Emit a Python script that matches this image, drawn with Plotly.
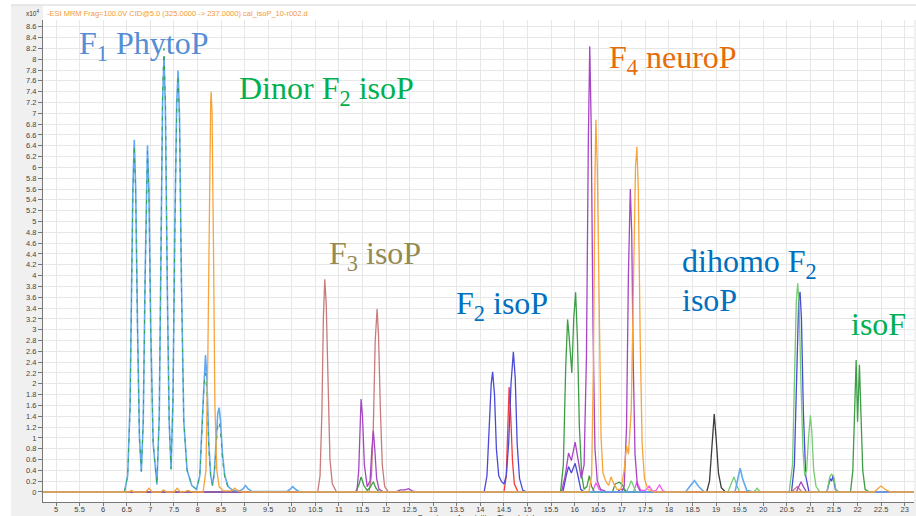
import plotly.graph_objects as go

# ---- data: retention time (min) and counts (x10^4) ----
LIGHTBLUE_T = [4.72, 6.45, 6.52, 6.57, 6.60, 6.63, 6.66, 6.69, 6.73, 6.77, 6.81, 6.85, 6.89, 6.92, 6.94, 6.97,
               7.01, 7.06, 7.14, 7.19, 7.23, 7.26, 7.29, 7.32, 7.36, 7.40, 7.44, 7.48, 7.52, 7.56, 7.59, 7.62,
               7.66, 7.71, 7.78, 7.88, 7.98, 8.05, 8.10, 8.14, 8.17, 8.20, 8.24, 8.28, 8.32, 8.36, 8.40, 8.43,
               8.46, 8.49, 8.53, 8.58, 8.65, 8.75, 8.90, 8.97, 9.02, 9.07, 9.15, 9.90, 9.96, 10.02, 10.08, 10.15,
               18.35, 18.45, 18.54, 18.63, 18.75, 19.40, 19.46, 19.51, 19.56, 19.65, 19.80, 23.20]
LIGHTBLUE_V = [0, 0, 0.3, 1.6, 3.6, 5.6, 6.51, 5.6, 3.0, 1.0, 0.38, 1.3, 4.0, 5.9, 6.41, 5.6,
               3.0, 0.9, 0.14, 1.4, 4.6, 7.2, 8.05, 7.1, 3.8, 1.3, 0.42, 1.7, 4.9, 7.2, 7.79, 6.9,
               3.9, 1.3, 0.4, 0.12, 0.05, 0.3, 1.3, 2.2, 2.53, 2.1, 0.9, 0.3, 0.12, 0.4, 1.1, 1.45,
               1.56, 1.3, 0.7, 0.3, 0.1, 0.03, 0.02, 0.06, 0.12, 0.06, 0.01, 0.01, 0.05, 0.1, 0.05, 0.01,
               0, 0.1, 0.21, 0.1, 0, 0, 0.25, 0.44, 0.25, 0.03, 0, 0]

GREENDASH_T = [6.45, 6.52, 6.57, 6.60, 6.63, 6.66, 6.69, 6.73, 6.77, 6.81, 6.85, 6.89, 6.92, 6.94, 6.97,
               7.01, 7.06, 7.14, 7.19, 7.23, 7.26, 7.29, 7.32, 7.36, 7.40, 7.44, 7.48, 7.52, 7.56, 7.59, 7.62,
               7.66, 7.71, 7.78, 7.88, 7.98, 8.05, 8.10, 8.14, 8.17, 8.20, 8.24, 8.28, 8.32, 8.36, 8.40, 8.43,
               8.46, 8.49, 8.53, 8.58, 8.65, 8.75]
GREENDASH_V = [0, 0.3, 1.5, 3.5, 5.5, 6.4, 5.5, 2.9, 1.0, 0.38, 1.3, 3.9, 5.8, 6.3, 5.5,
               2.9, 0.9, 0.14, 1.4, 4.7, 7.4, 8.2, 7.2, 3.8, 1.3, 0.42, 1.7, 4.8, 7.1, 7.7, 6.8,
               3.8, 1.3, 0.4, 0.12, 0.05, 0.3, 1.2, 2.0, 2.2, 1.8, 0.8, 0.3, 0.12, 0.35, 0.9, 1.2,
               1.3, 1.1, 0.6, 0.25, 0.08, 0.02]

ORANGE_T = [4.72, 6.55, 6.60, 6.65, 6.90, 6.97, 7.04, 7.22, 7.28, 7.34, 7.50, 7.57, 7.64, 7.75, 7.80, 7.90,
            8.12, 8.18, 8.22, 8.25, 8.28, 8.29, 8.31, 8.34, 8.37, 8.41, 8.46, 8.55, 8.72, 8.79, 8.86, 8.95,
            16.30, 16.36, 16.40, 16.43, 16.45, 16.48, 16.52, 16.56, 16.60, 16.66, 16.72, 16.77, 16.83, 16.90,
            16.98, 17.05, 17.10, 17.14, 17.20, 17.25, 17.29, 17.32, 17.35, 17.39, 17.43, 17.48, 17.55, 17.70,
            22.35, 22.45, 22.50, 22.58, 22.70, 23.20]
ORANGE_V = [0, 0, 0.03, 0, 0, 0.07, 0, 0, 0.04, 0, 0, 0.07, 0, 0.01, 0.03, 0,
            0, 0.4, 2.5, 5.5, 7.2, 7.4, 7.0, 4.5, 1.6, 0.4, 0.1, 0.02, 0.02, 0.07, 0.02, 0,
            0, 0.3, 2.5, 5.8, 6.88, 6.0, 3.0, 1.0, 0.35, 0.2, 0.12, 0.28, 0.15, 0.05,
            0.05, 0.4, 0.85, 0.7, 1.5, 4.0, 6.0, 6.38, 5.6, 2.8, 0.9, 0.25, 0.05, 0,
            0, 0.08, 0.11, 0.05, 0, 0]

ROSY_T = [4.72, 10.55, 10.60, 10.64, 10.67, 10.70, 10.73, 10.77, 10.81, 10.86, 10.95,
          11.64, 11.69, 11.73, 11.77, 11.81, 11.84, 11.88, 11.92, 11.97, 12.05, 20.60, 20.72, 20.82, 23.20]
ROSY_V = [0, 0, 0.3, 1.5, 3.2, 3.93, 3.5, 1.8, 0.6, 0.15, 0,
          0, 0.3, 1.2, 2.8, 3.38, 2.9, 1.5, 0.5, 0.1, 0, 0, 0.1, 0, 0]

PURPLE_T = [4.72, 11.38, 11.42, 11.45, 11.47, 11.50, 11.54, 11.60, 11.66, 11.70, 11.73, 11.76, 11.80, 11.85,
            11.95, 12.20, 12.30, 12.40, 12.48, 12.55, 12.65, 15.72, 15.80, 15.87, 15.93, 16.01, 16.07, 16.14,
            16.20, 16.25, 16.29, 16.32, 16.35, 16.39, 16.43, 16.48, 16.55, 16.70, 17.00, 17.05, 17.10, 17.14,
            17.18, 17.21, 17.24, 17.28, 17.33, 17.40, 20.70, 20.76, 20.80, 20.85, 20.92, 23.20]
PURPLE_V = [0, 0, 0.4, 1.3, 1.72, 1.4, 0.5, 0.1, 0.2, 0.8, 1.13, 0.8, 0.25, 0.05,
            0, 0, 0.04, 0.04, 0.06, 0.02, 0, 0, 0.3, 0.72, 0.58, 0.92, 0.6, 0.25,
            0.5, 2.5, 6.5, 8.24, 6.8, 3.0, 0.8, 0.2, 0.05, 0, 0, 0.1, 1.2, 4.0,
            5.6, 4.8, 2.5, 0.7, 0.12, 0, 0, 0.12, 0.19, 0.1, 0, 0]

VIOLET_T = [4.72, 14.08, 14.14, 14.19, 14.23, 14.26, 14.30, 14.34, 14.39, 14.45, 14.50, 14.55, 14.60, 14.65,
            14.70, 14.74, 14.78, 14.83, 14.90, 15.00, 15.75, 15.82, 15.87, 15.93, 16.01, 16.07, 16.13, 16.20,
            16.90, 16.97, 17.05, 17.12, 20.60, 20.66, 20.71, 20.75, 20.78, 20.81, 20.85, 20.90, 20.97,
            21.35, 21.42, 21.45, 21.48, 21.53, 21.60, 23.20]
VIOLET_V = [0, 0, 0.3, 1.3, 2.0, 2.22, 1.8, 0.8, 0.3, 0.19, 0.15, 0.3, 0.9, 2.0,
            2.59, 2.1, 0.9, 0.25, 0.03, 0, 0, 0.3, 0.47, 0.35, 0.53, 0.3, 0.05, 0,
            0, 0.05, 0.05, 0, 0, 0.5, 2.5, 3.5, 3.7, 3.2, 1.5, 0.3, 0,
            0, 0.25, 0.2, 0.3, 0.05, 0, 0]

RED_T = [4.72, 14.50, 14.55, 14.58, 14.61, 14.64, 14.68, 14.72, 14.80, 23.20]
RED_V = [0, 0, 0.3, 1.2, 1.94, 1.5, 0.6, 0.15, 0, 0]

GREEN_T = [4.72, 11.35, 11.42, 11.47, 11.53, 11.60, 11.67, 11.73, 11.78, 11.85, 15.70, 15.76, 15.81, 15.85,
           15.88, 15.94, 15.98, 16.02, 16.06, 16.10, 16.15, 16.20, 16.26, 16.31, 16.36, 16.42, 16.80, 16.86,
           16.95, 17.02, 17.08, 21.85, 21.90, 21.94, 21.97, 22.00, 22.02, 22.04, 22.07, 22.11, 22.16, 22.25, 23.20]
GREEN_V = [0, 0, 0.12, 0.28, 0.12, 0.03, 0.1, 0.19, 0.08, 0, 0, 0.5, 2.3, 3.19,
           2.9, 2.2, 3.2, 3.69, 2.8, 1.2, 0.3, 0.05, 0.1, 0.3, 0.1, 0, 0, 0.15,
           0.18, 0.12, 0, 0, 0.4, 1.8, 2.44, 1.3, 1.8, 2.35, 1.5, 0.4, 0.05, 0, 0]

LIGHTGREEN_T = [4.72, 17.10, 17.16, 17.20, 17.25, 17.30, 19.25, 19.32, 19.38, 19.44, 19.50, 19.80, 19.87, 19.94,
                20.55, 20.62, 20.67, 20.70, 20.73, 20.76, 20.80, 20.84, 20.88, 20.92, 20.96, 21.00, 21.03, 21.07,
                21.12, 21.20, 21.35, 21.41, 21.45, 21.49, 21.54, 21.60, 23.20]
LIGHTGREEN_V = [0, 0, 0.12, 0.21, 0.1, 0, 0, 0.15, 0.28, 0.12, 0, 0, 0.07, 0,
                0, 0.5, 2.2, 3.5, 3.86, 3.5, 2.0, 0.8, 0.3, 0.4, 1.0, 1.42, 1.1, 0.4,
                0.1, 0, 0, 0.28, 0.33, 0.3, 0.05, 0, 0]

BLACK_T = [4.72, 18.80, 18.86, 18.91, 18.96, 19.00, 19.05, 19.11, 19.20, 23.20]
BLACK_V = [0, 0, 0.2, 0.9, 1.44, 1.0, 0.35, 0.08, 0, 0]

PINK_T = [4.72, 16.38, 16.45, 16.52, 16.60, 17.25, 17.32, 17.40, 17.50, 17.58, 17.65, 17.72, 17.80, 17.87, 17.95, 23.20]
PINK_V = [0, 0, 0.17, 0.05, 0, 0, 0.19, 0.03, 0.03, 0.11, 0.02, 0.02, 0.13, 0.02, 0, 0]

X_TICKS = [5, 5.5, 6, 6.5, 7, 7.5, 8, 8.5, 9, 9.5, 10, 10.5, 11, 11.5, 12, 12.5, 13, 13.5, 14, 14.5,
           15, 15.5, 16, 16.5, 17, 17.5, 18, 18.5, 19, 19.5, 20, 20.5, 21, 21.5, 22, 22.5, 23]
X_TICK_TEXT = [str(v) for v in X_TICKS]
Y_TICKS = [0, 0.2, 0.4, 0.6, 0.8, 1, 1.2, 1.4, 1.6, 1.8, 2, 2.2, 2.4, 2.6, 2.8, 3, 3.2, 3.4, 3.6, 3.8,
           4, 4.2, 4.4, 4.6, 4.8, 5, 5.2, 5.4, 5.6, 5.8, 6, 6.2, 6.4, 6.6, 6.8, 7, 7.2, 7.4, 7.6, 7.8,
           8, 8.2, 8.4, 8.6]
Y_TICK_TEXT = [str(v) for v in Y_TICKS]

LABELS = ["F<sub>1</sub> PhytoP", "Dinor F<sub>2</sub> isoP", "F<sub>3</sub> isoP", "F<sub>2</sub> isoP",
          "F<sub>4</sub> neuroP", "dihomo F<sub>2</sub>", "isoP", "isoF"]
LABEL_T = [5.45, 8.84, 10.75, 13.44, 16.69, 18.24, 18.24, 21.82]
LABEL_V = [8.26, 7.43, 4.38, 3.44, 7.99, 4.23, 3.55, 3.11]
LABEL_COLORS = ["#558ed5", "#00b050", "#948a54", "#0070c0", "#e46c0a", "#0070c0", "#0070c0", "#00b050"]

# ---- figure ----
traces = [
    (ROSY_T, ROSY_V, "#c97b7b", None, 1.3),
    (PINK_T, PINK_V, "#f25cf2", None, 1.3),
    (BLACK_T, BLACK_V, "#3c3c3c", None, 1.3),
    (RED_T, RED_V, "#f23c3c", None, 1.3),
    (VIOLET_T, VIOLET_V, "#4a4ad8", None, 1.3),
    (LIGHTGREEN_T, LIGHTGREEN_V, "#74cc74", None, 1.3),
    (GREEN_T, GREEN_V, "#3d9e45", None, 1.3),
    (PURPLE_T, PURPLE_V, "#a646c4", None, 1.3),
    (LIGHTBLUE_T, LIGHTBLUE_V, "#62aaf0", None, 1.6),
    (GREENDASH_T, GREENDASH_V, "#2da55a", "4px,6px", 1.0),
    (ORANGE_T, ORANGE_V, "#f7a43b", None, 1.3),
]

fig = go.Figure()
for t, v, c, d, w in traces:
    fig.add_trace(go.Scatter(
        x=t, y=v, mode="lines",
        line=dict(color=c, width=w, shape="linear", dash=d if d else "solid"),
        hoverinfo="skip", showlegend=False))

W_PLOT = 871.0
H_PLOT = 482.0

annotations = []
for txt, t, v, c in zip(LABELS, LABEL_T, LABEL_V, LABEL_COLORS):
    annotations.append(dict(
        x=t, y=v, xref="x", yref="y", text=txt, showarrow=False,
        xanchor="left", yanchor="middle",
        font=dict(family="Liberation Serif, Times New Roman, serif", size=32, color=c)))

annotations.append(dict(
    x=(45 - 43) / W_PLOT, y=(502 - 13) / H_PLOT, xref="paper", yref="paper",
    text="-ESI MRM Frag=100.0V CID@5.0 (325.0000 -> 237.0000) cal_isoP_10-r002.d",
    showarrow=False, xanchor="left", yanchor="middle",
    font=dict(family="Liberation Sans, Arial, sans-serif", size=7.5, color="#f39a36")))
annotations.append(dict(
    x=(24 - 43) / W_PLOT, y=(502 - 13) / H_PLOT, xref="paper", yref="paper",
    text="x10<sup>4</sup>", showarrow=False, xanchor="left", yanchor="middle",
    font=dict(family="Liberation Sans, Arial, sans-serif", size=6.5, color="#333333")))
annotations.append(dict(
    x=0.498, y=(502 - 510.5) / H_PLOT, xref="paper", yref="paper",
    text="Counts vs. Acquisition Time (min)", showarrow=False, xanchor="center", yanchor="top",
    font=dict(family="Liberation Sans, Arial, sans-serif", size=8, color="#333333")))

shapes = [
    dict(type="rect", xref="paper", yref="paper", x0=0, x1=(916 - 43) / W_PLOT,
         y0=1, y1=(502 - 5) / H_PLOT, fillcolor="white", line=dict(width=0), layer="below"),
    dict(type="rect", xref="paper", yref="paper", x0=-43 / W_PLOT, x1=(11 - 43) / W_PLOT,
         y0=(502 - 520) / H_PLOT, y1=(502 + 2) / H_PLOT, fillcolor="white", line=dict(width=0), layer="below"),
    dict(type="rect", xref="paper", yref="paper", x0=-43 / W_PLOT, x1=(918 - 43) / W_PLOT,
         y0=(502 - 5) / H_PLOT, y1=(502 + 2) / H_PLOT, fillcolor="white", line=dict(width=0), layer="below"),
    dict(type="line", xref="paper", yref="paper", x0=(11 - 43) / W_PLOT, x1=(916 - 43) / W_PLOT,
         y0=(502 - 5) / H_PLOT, y1=(502 - 5) / H_PLOT, line=dict(color="#e2e2e2", width=1.5), layer="below"),
]

fig.update_layout(
    width=916, height=516,
    margin=dict(l=43, r=2, t=20, b=14, pad=0),
    paper_bgcolor="#f0f0f0", plot_bgcolor="white",
    showlegend=False,
    annotations=annotations, shapes=shapes,
    xaxis=dict(range=[4.724, 23.197], tickvals=X_TICKS, ticktext=X_TICK_TEXT,
               showgrid=True, gridcolor="#e7e7e7", gridwidth=1.2, zeroline=False,
               showline=True, linecolor="#777777", linewidth=1,
               ticks="outside", ticklen=3, tickcolor="#777777", ticklabelstandoff=-3,
               tickfont=dict(family="Liberation Sans, Arial, sans-serif", size=7.5, color="#444444"),
               fixedrange=True),
    yaxis=dict(range=[-0.185, 8.725], tickvals=Y_TICKS, ticktext=Y_TICK_TEXT,
               showgrid=True, gridcolor="#e7e7e7", gridwidth=1.2, zeroline=False,
               showline=True, linecolor="#777777", linewidth=1,
               ticks="outside", ticklen=4, tickcolor="#777777",
               tickfont=dict(family="Liberation Sans, Arial, sans-serif", size=7.5, color="#444444"),
               fixedrange=True),
)

fig.write_html("out.html", config={"displayModeBar": False},
               post_script="document.body.style.margin='0';document.body.style.overflow='hidden';")
